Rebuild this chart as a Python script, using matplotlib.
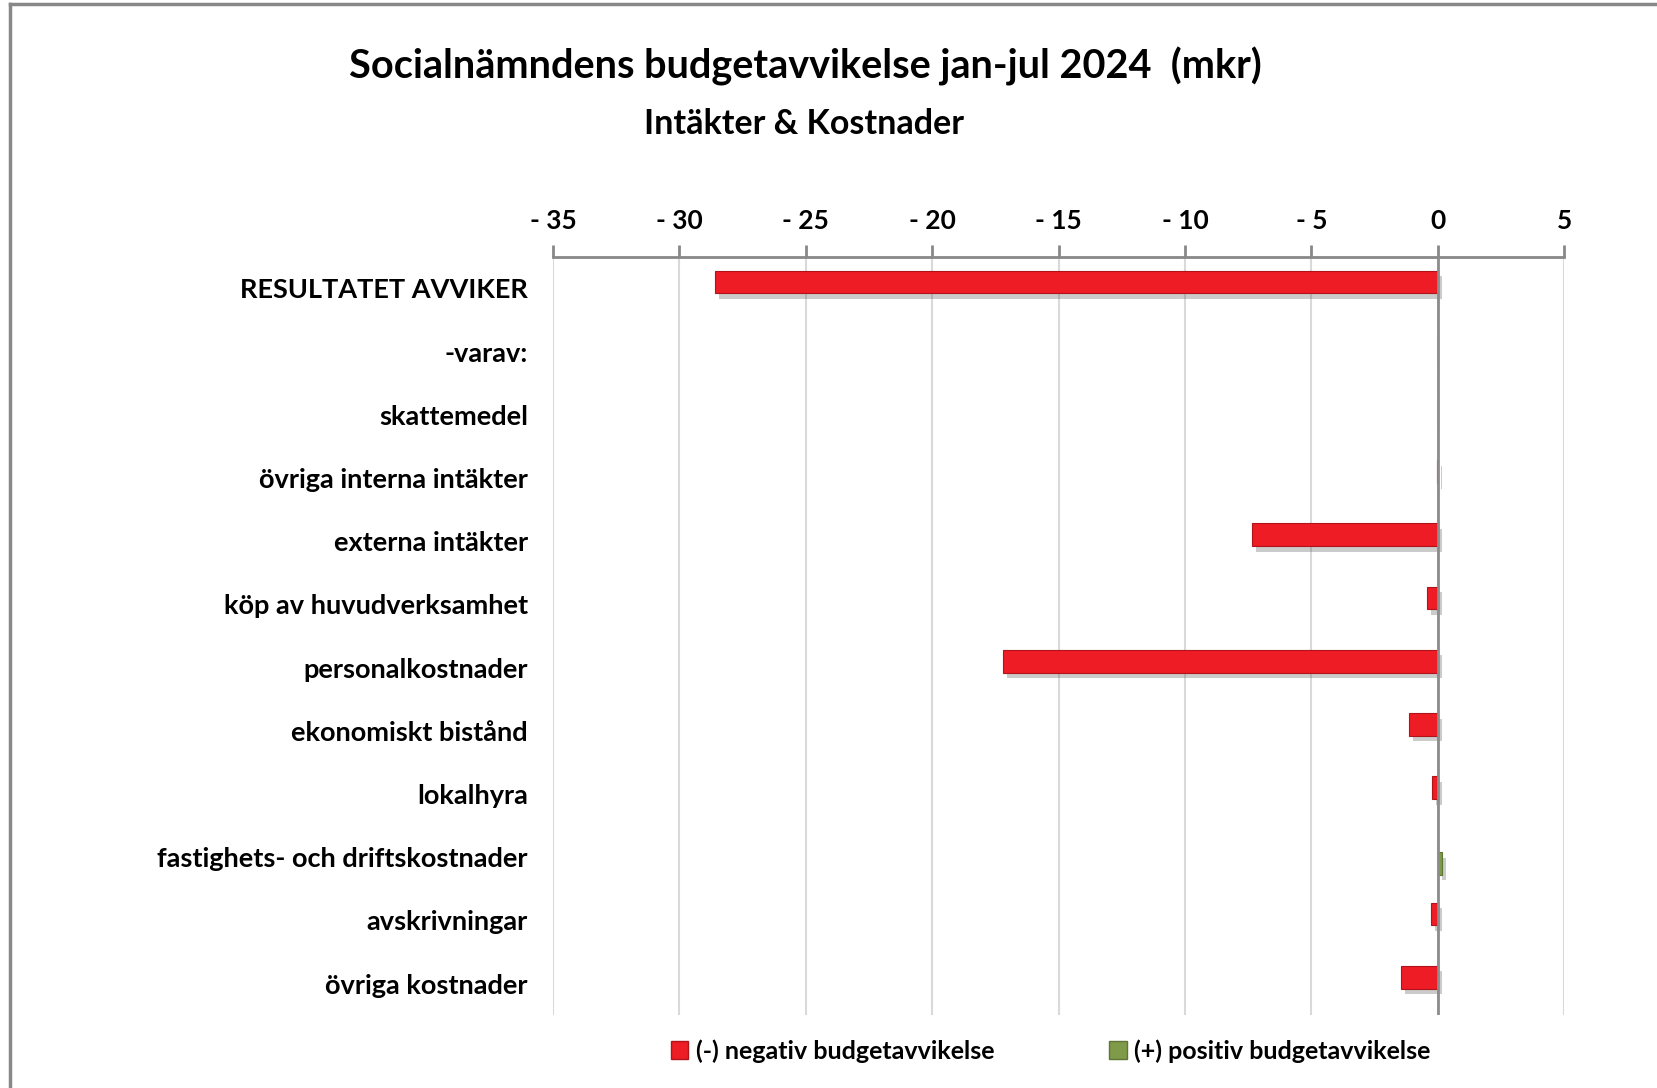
import matplotlib.pyplot as plt
import matplotlib.patheffects as pe
from matplotlib.patches import Patch
from matplotlib.lines import Line2D

plt.rcParams['font.family'] = ['Lato', 'DejaVu Sans']
plt.rcParams['font.weight'] = 'bold'

categories = ['RESULTATET AVVIKER', '-varav:', 'skattemedel', 'övriga interna intäkter',
              'externa intäkter', 'köp av huvudverksamhet', 'personalkostnader',
              'ekonomiskt bistånd', 'lokalhyra', 'fastighets- och driftskostnader',
              'avskrivningar', 'övriga kostnader']
# (-) negativ / (+) positiv budgetavvikelse, mkr
negative = [-28.6, 0, 0, -0.05, -7.35, -0.43, -17.2, -1.15, -0.24, 0, -0.28, -1.46]
positive = [0, 0, 0, 0, 0, 0, 0, 0, 0, 0.15, 0, 0]
ticks = [-35, -30, -25, -20, -15, -10, -5, 0, 5]
tick_labels = ['- 35', '- 30', '- 25', '- 20', '- 15', '- 10', '- 5', '0', '5']

red = '#EE1C25'
green = '#7F9A48'

fig = plt.figure(figsize=(16.57, 10.88), dpi=100)
ax = fig.add_axes([0.3337, 0.067, 0.6103, 0.697])

y = list(range(len(categories)))
shadow = [pe.SimplePatchShadow(offset=(3, -4), shadow_rgbFace='#555555', alpha=0.3), pe.Normal()]
ax.barh([i - 0.1 for i in y], negative, height=0.36, color=red, edgecolor='#B0141A',
        linewidth=0.8, path_effects=shadow, zorder=3)
ax.barh([i + 0.1 for i in y], positive, height=0.36, color=green, edgecolor='#5E7535',
        linewidth=0.8, path_effects=shadow, zorder=3)

ax.set_xlim(-35, 5)
ax.set_ylim(len(categories) - 0.5, -0.5)
ax.set_xticks(ticks)
ax.set_xticklabels(tick_labels)
ax.xaxis.tick_top()
ax.tick_params(axis='x', direction='out', length=9, width=2, color='#888888',
               labelsize=19, pad=8)
ax.set_yticks(y)
ax.set_yticklabels(categories)
ax.tick_params(axis='y', length=0, labelsize=19.5, pad=18)
for lab in ax.get_xticklabels() + ax.get_yticklabels():
    lab.set_fontweight('bold')

ax.grid(axis='x', color='#D9D9D9', linewidth=1.5, zorder=0)
for side in ['left', 'right', 'bottom']:
    ax.spines[side].set_visible(False)
ax.spines['top'].set_color('#888888')
ax.spines['top'].set_linewidth(2)
ax.axvline(0, color='#8C8C8C', linewidth=2, zorder=4)

fig.text(0.486, 0.939, 'Socialnämndens budgetavvikelse jan-jul 2024  (mkr)',
         ha='center', va='center', fontsize=28.5, fontweight='bold')
fig.text(0.485, 0.886, 'Intäkter & Kostnader', ha='center', va='center',
         fontsize=24.5, fontweight='bold')

handles = [Patch(facecolor=red, edgecolor='#B0141A'), Patch(facecolor=green, edgecolor='#5E7535')]
fig.legend(handles, ['(-) negativ budgetavvikelse', '(+) positiv budgetavvikelse'],
           loc='center', bbox_to_anchor=(0.634, 0.034), ncol=2, frameon=False,
           handlelength=0.7, handleheight=0.7, handletextpad=0.3,
           columnspacing=4.6, prop={'weight': 'bold', 'size': 18})

# chart frame (top and left edges visible)
fig.add_artist(Line2D([0.006, 0.006], [0, 0.996], color='#888888', linewidth=2.5,
                      transform=fig.transFigure))
fig.add_artist(Line2D([0.006, 1], [0.996, 0.996], color='#888888', linewidth=2.5,
                      transform=fig.transFigure))

fig.savefig('out.png', dpi=100)
